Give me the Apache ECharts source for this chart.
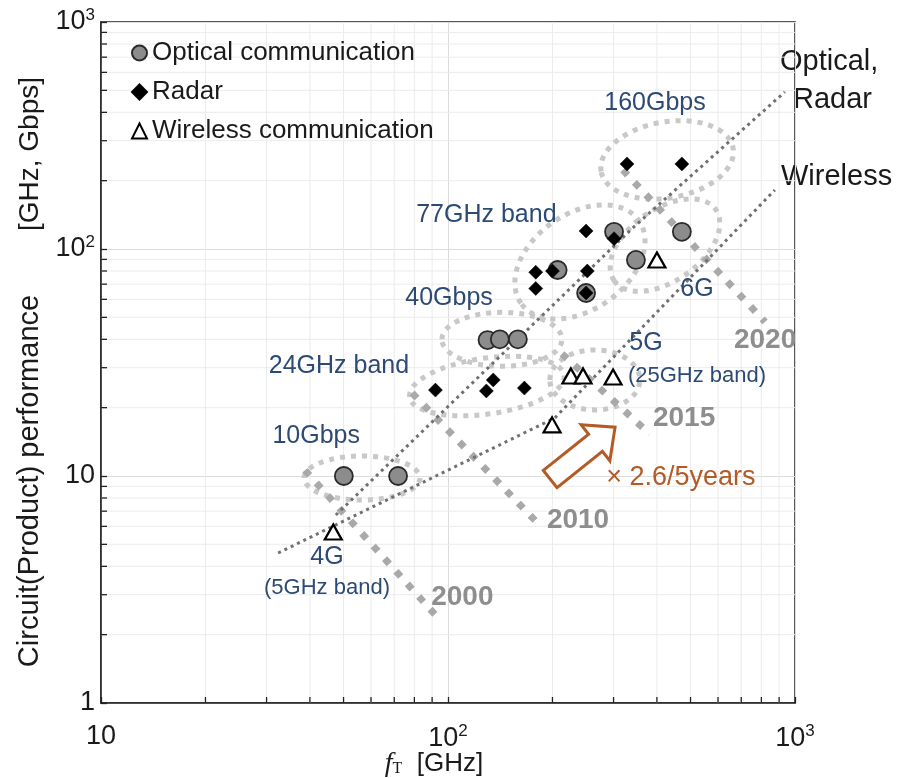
<!DOCTYPE html>
<html>
<head>
<meta charset="utf-8">
<script src="https://cdn.jsdelivr.net/npm/echarts@6/dist/echarts.min.js"></script>
<style>
  html, body { margin: 0; padding: 0; background: #fff; }
  #chart { width: 899px; height: 778px; }
</style>
</head>
<body>
<div id="chart"></div>
<script>
// ---- measured values: f_T [GHz] vs circuit performance [GHz, Gbps] ----
const opticalComm = [
  [50.1, 10], [71.8, 10], [130, 39.7], [141, 40], [159, 40],
  [207, 80.8], [250, 64], [301, 119], [348, 89.5], [472, 119]
];
const radar = [
  [92, 23.9], [129, 23.7], [135, 26.5], [166, 24.4],
  [179, 67], [179, 79], [200, 80], [252, 80], [250, 64],
  [301, 111], [250, 120], [328, 237], [472, 237]
];
const wirelessComm = [
  [46.7, 5.67], [199.5, 16.8], [226, 27.6], [245, 27.6], [299, 27.3], [400, 89.5]
];

// trend lines (break points along each trend)
const trendOpticalRadar = [[47.5, 6.73], [341, 124], [935, 492]];
const trendWireless = [[32.4, 4.58], [203, 18.0], [875, 182]];

// technology-generation lines
const line2000 = [[38.7, 10.6], [94.8, 2.32]];
const line2010 = [[78.8, 23.2], [180, 6.27]];
const line2015 = [[213, 34.5], [382, 15.3]];
const line2020 = [[319, 223], [820, 47.7]];

// axis ticks
const xMinor = [20, 30, 40, 50, 60, 70, 80, 90, 200, 300, 400, 500, 600, 700, 800, 900];
const yMinor = [2, 3, 4, 5, 6, 7, 8, 9, 20, 30, 40, 50, 60, 70, 80, 90, 200, 300, 400, 500, 600, 700, 800, 900];

// group outlines: [centre f_T, centre perf]
const groupCentres = [
  [56.5, 9.8],   // 10Gbps
  [129.4, 24.9], // 24GHz band
  [143, 40],     // 40Gbps
  [240, 87.7],   // 77GHz band
  [428, 247],    // 160Gbps
  [265, 26.5],   // 5G
  [422, 104]     // 6G
];
// outline radii (px) and tilt (deg)
const groupShapes = [
  [58, 22, 0], [78, 28, 8], [60, 27, 0], [72, 48, 35], [67, 38, 10], [45, 30, 0], [62, 36, 35]
];

// annotation texts anchored at data positions
const bandNotes = [
  ['160Gbps', 395, 440], ['77GHz band', 129, 141], ['40Gbps', 100.7, 60.8],
  ['24GHz band', 48.5, 30.5], ['10Gbps', 41.7, 15.0], ['4G', 44.8, 4.4],
  ['5G', 372, 38.5], ['6G', 522, 66.6]
];
const bandSubNotes = [['(5GHz band)', 44.8, 3.21], ['(25GHz band)', 522, 27.6]];
const yearNotes = [['2000', 110, 2.93], ['2010', 237, 6.4], ['2015', 479, 18.0], ['2020', 820, 39.7]];
const growthArrow = [197, 9.7, 303, 16.4];
const growthNote = ['× 2.6/5years', 469, 9.8];

const FONT = '"Liberation Sans", Arial, Helvetica, sans-serif';
const NAVY = '#2c4a74';
const YEAR_GRAY = '#8e8e8e';
const LINE_GRAY = '#a9a9a9';
const RING_GRAY = '#c8c8c8';
const TREND = '#707070';
const BROWN = '#b35a26';
const AXIS = '#222';

const chart = echarts.init(document.getElementById('chart'));

function supLabel(v) {
  const e = Math.round(Math.log10(v));
  if (e === 0) return '1';
  if (e === 1) return '10';
  return '10{sup|' + e + '}';
}

function segment(name, data, color, width, dash, cap, z) {
  return {
    name, type: 'line', data, symbol: 'none', showSymbol: false, silent: true,
    lineStyle: { color, width, type: dash, cap: cap || 'butt' }, z: z || 3, animation: false
  };
}

function textSeries(list, style) {
  return {
    type: 'custom', silent: true, z: 6, animation: false,
    data: list.map(n => [n[1], n[2]]),
    renderItem(params, api) {
      const n = list[params.dataIndex];
      const p = api.coord([n[1], n[2]]);
      return {
        type: 'text', x: p[0], y: p[1],
        style: Object.assign({ text: n[0], align: 'center', verticalAlign: 'middle', fontFamily: FONT }, style)
      };
    }
  };
}

// grid lines and inward tick marks for the minor decades
function minorSeries(values, dir) {
  return {
    type: 'custom', silent: true, z: 1, animation: false, clip: false,
    data: values.map(v => dir === 'x' ? [v, 1] : [10, v]),
    renderItem(params, api) {
      const v = values[params.dataIndex];
      if (dir === 'x') {
        const b = api.coord([v, 1]), t = api.coord([v, 1000]);
        return { type: 'group', children: [
          { type: 'line', shape: { x1: b[0], y1: b[1], x2: t[0], y2: t[1] }, style: { stroke: '#ececec', lineWidth: 1 } },
          { type: 'line', shape: { x1: b[0], y1: b[1], x2: b[0], y2: b[1] - 6 }, style: { stroke: AXIS, lineWidth: 1.3 } }
        ] };
      }
      const l = api.coord([10, v]), r = api.coord([1000, v]);
      return { type: 'group', children: [
        { type: 'line', shape: { x1: l[0], y1: l[1], x2: r[0], y2: r[1] }, style: { stroke: '#ececec', lineWidth: 1 } },
        { type: 'line', shape: { x1: l[0], y1: l[1], x2: l[0] + 6, y2: l[1] }, style: { stroke: AXIS, lineWidth: 1.3 } }
      ] };
    }
  };
}

const axisCommon = {
  type: 'log', logBase: 10,
  axisLine: { show: true, lineStyle: { color: AXIS, width: 1.5 } },
  axisTick: { show: true, inside: true, length: 6, lineStyle: { color: AXIS, width: 1.3 } },
  splitLine: { show: true, lineStyle: { color: '#dcdcdc', width: 1 } },
  minorTick: { show: false }, minorSplitLine: { show: false }
};

const option = {
  animation: false,
  backgroundColor: '#fff',
  grid: { left: 101, right: 104, top: 22, bottom: 75, show: true, borderColor: AXIS, borderWidth: 1.5, containLabel: false },
  legend: {
    data: ['Optical communication', 'Radar', 'Wireless communication'],
    orient: 'vertical', left: 126, top: 35, itemGap: 13,
    itemWidth: 15, itemHeight: 15,
    textStyle: { fontFamily: FONT, fontSize: 26, color: '#1a1a1a', padding: [0, 0, 0, 0] },
    selectedMode: false
  },
  xAxis: Object.assign({}, axisCommon, {
    min: 10, max: 1000,
    axisLabel: { margin: 20, fontFamily: FONT, fontSize: 27, color: '#1a1a1a', formatter: supLabel,
      rich: { sup: { fontFamily: FONT, fontSize: 17, color: '#1a1a1a', padding: [0, 0, 14, 0] } } }
  }),
  yAxis: Object.assign({}, axisCommon, {
    min: 1, max: 1000,
    axisLabel: { margin: 6, fontFamily: FONT, fontSize: 27, color: '#1a1a1a', formatter: supLabel,
      rich: { sup: { fontFamily: FONT, fontSize: 17, color: '#1a1a1a', padding: [0, 0, 14, 0] } } }
  }),
  series: [
    minorSeries(xMinor, 'x'),
    minorSeries(yMinor, 'y'),
    // group outlines
    {
      type: 'custom', silent: true, z: 2, animation: false,
      data: groupCentres,
      renderItem(params, api) {
        const c = api.coord(groupCentres[params.dataIndex]);
        const s = groupShapes[params.dataIndex];
        return {
          type: 'ellipse', x: c[0], y: c[1], rotation: s[2] * Math.PI / 180,
          shape: { cx: 0, cy: 0, rx: s[0], ry: s[1] },
          style: { fill: null, stroke: RING_GRAY, lineWidth: 5, lineDash: [5, 6] }
        };
      }
    },
    segment('y2000', line2000, LINE_GRAY, 7, [7, 10], 'butt', 3),
    segment('y2010', line2010, LINE_GRAY, 7, [7, 10], 'butt', 3),
    segment('y2015', line2015, LINE_GRAY, 7, [7, 10], 'butt', 3),
    segment('y2020', line2020, LINE_GRAY, 7, [7, 10], 'butt', 3),
    segment('trendOR', trendOpticalRadar, TREND, 3, [3, 4], 'butt', 4),
    segment('trendW', trendWireless, TREND, 3, [3, 4], 'butt', 4),
    {
      name: 'Optical communication', type: 'scatter', data: opticalComm, symbol: 'circle', symbolSize: 18, z: 5,
      itemStyle: { color: '#8c8c8c', borderColor: '#2a2a2a', borderWidth: 1.8, opacity: 1 }
    },
    {
      name: 'Radar', type: 'scatter', data: radar, symbol: 'diamond', symbolSize: 14, z: 6,
      itemStyle: { color: '#000', borderColor: '#000', borderWidth: 0.5, opacity: 1 }
    },
    {
      name: 'Wireless communication', type: 'scatter', data: wirelessComm, symbol: 'triangle', symbolSize: [17, 15], z: 7,
      itemStyle: { color: '#fff', borderColor: '#000', borderWidth: 2.2, opacity: 1 }
    },
    // growth arrow
    {
      type: 'custom', silent: true, z: 6, animation: false,
      data: [growthArrow], encode: { x: [0, 2], y: [1, 3] },
      renderItem(params, api) {
        const a = api.coord([growthArrow[0], growthArrow[1]]);
        const b = api.coord([growthArrow[2], growthArrow[3]]);
        const dx = b[0] - a[0], dy = b[1] - a[1];
        const len = Math.hypot(dx, dy);
        const ux = dx / len, uy = dy / len, nx = -uy, ny = ux;
        const head = 25, hw = 23, sw = 11;
        const hb = [b[0] - ux * head, b[1] - uy * head];
        const pts = [
          [a[0] - nx * sw, a[1] - ny * sw],
          [hb[0] - nx * sw, hb[1] - ny * sw],
          [hb[0] - nx * hw, hb[1] - ny * hw],
          [b[0], b[1]],
          [hb[0] + nx * hw, hb[1] + ny * hw],
          [hb[0] + nx * sw, hb[1] + ny * sw],
          [a[0] + nx * sw, a[1] + ny * sw]
        ];
        return { type: 'polygon', shape: { points: pts }, style: { fill: '#fff', stroke: BROWN, lineWidth: 3, lineJoin: 'miter' } };
      }
    },
    textSeries(bandNotes, { fontSize: 25, fill: NAVY }),
    textSeries(bandSubNotes, { fontSize: 22, fill: NAVY }),
    textSeries(yearNotes, { fontSize: 28, fontWeight: 'bold', fill: YEAR_GRAY }),
    textSeries([growthNote], { fontSize: 27, fill: BROWN })
  ],
  graphic: [
    { type: 'text', x: 30, y: 481, rotation: Math.PI / 2,
      style: { text: 'Circuit(Product) performance', fontFamily: FONT, fontSize: 29, fill: '#1a1a1a', align: 'center', verticalAlign: 'middle' } },
    { type: 'text', x: 30, y: 154, rotation: Math.PI / 2,
      style: { text: '[GHz, Gbps]', fontFamily: FONT, fontSize: 28, fill: '#1a1a1a', align: 'center', verticalAlign: 'middle' } },
    { type: 'text', x: 434, y: 764,
      style: { text: '{f|f}{t|T}  [GHz]', fontFamily: FONT, fontSize: 26, fill: '#1a1a1a', align: 'center', verticalAlign: 'middle',
        rich: {
          f: { fontFamily: '"Liberation Serif", "Times New Roman", serif', fontStyle: 'italic', fontSize: 28, fill: '#1a1a1a' },
          t: { fontFamily: '"Liberation Serif", "Times New Roman", serif', fontSize: 16, fill: '#1a1a1a', padding: [10, 0, 0, 0] }
        } } },
    { type: 'text', x: 780, y: 62, style: { text: 'Optical,', fontFamily: FONT, fontSize: 29, fill: '#1a1a1a', align: 'left', verticalAlign: 'middle' } },
    { type: 'text', x: 793, y: 100, style: { text: 'Radar', fontFamily: FONT, fontSize: 29, fill: '#1a1a1a', align: 'left', verticalAlign: 'middle' } },
    { type: 'text', x: 781, y: 177, style: { text: 'Wireless', fontFamily: FONT, fontSize: 29, fill: '#1a1a1a', align: 'left', verticalAlign: 'middle' } }
  ]
};

chart.setOption(option);
</script>
</body>
</html>
